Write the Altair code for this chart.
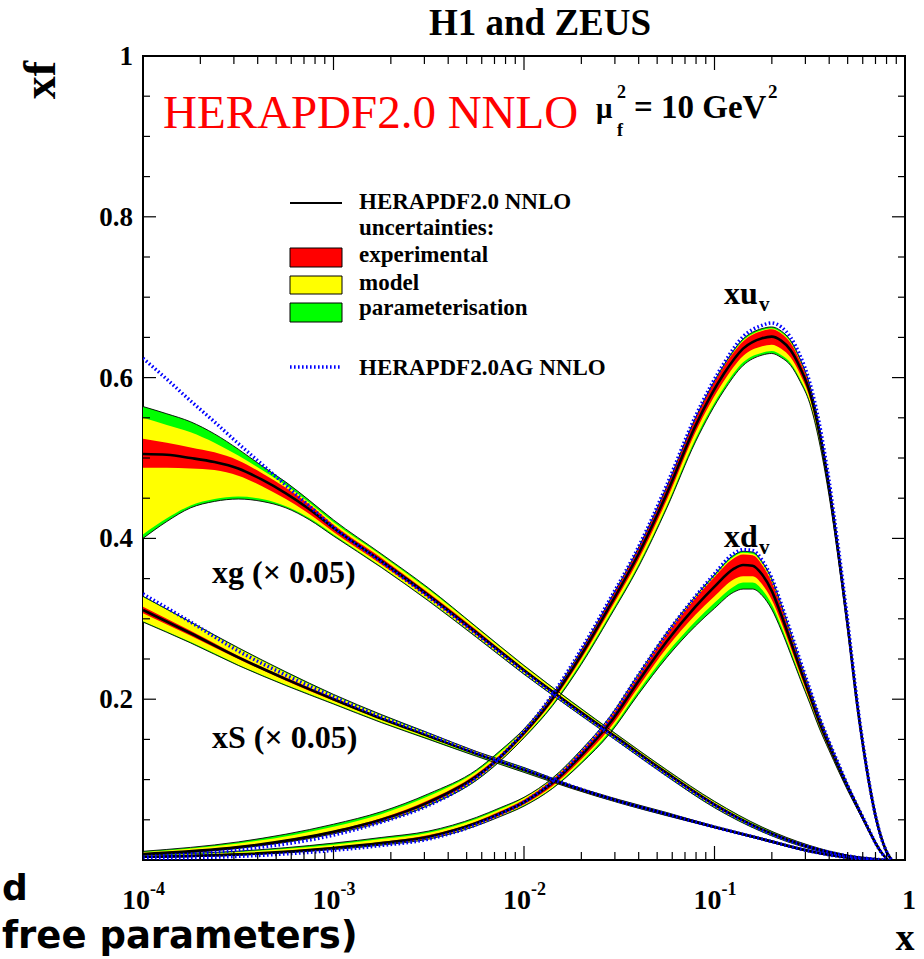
import altair as alt
import pandas as pd

# ---------------- data (log10 x grid and values) ----------------
# gluon  xg x 0.05
g_lx  = [-4, -3.875, -3.75, -3.625, -3.5, -3.375, -3.25, -3.125, -3, -2.75, -2.5, -2.25, -2, -1.75, -1.5,
         -1.25, -1, -0.75, -0.5, -0.3, -0.1]
g_c   = [.505, .504, .500, .495, .487, .473, .456, .436, .413, .372, .329, .283, .236, .192, .150,
         .108, .069, .038, .016, .005, 0]
g_elo = [.488, .488, .487, .485, .478, .465, .449, .430, .408, .368, .326, .280, .234, .190, .148,
         .106, .067, .037, .015, .0045, 0]
g_ehi = [.524, .519, .513, .507, .497, .481, .463, .442, .417, .376, .332, .286, .238, .194, .152,
         .110, .071, .039, .017, .0055, 0]
g_mlo = [.405, .425, .441, .449, .452, .449, .440, .425, .405, .365, .323, .278, .232, .189, .147,
         .105, .066, .036, .015, .004, 0]
g_mhi = [.550, .541, .532, .519, .503, .485, .466, .444, .420, .379, .336, .289, .241, .196, .153,
         .111, .072, .040, .018, .006, 0]
g_tlo = [.400, .421, .438, .446, .449, .446, .438, .423, .403, .364, .322, .277, .231, .188, .146,
         .104, .065, .035, .014, .004, 0]
g_thi = [.564, .555, .545, .530, .511, .490, .470, .447, .423, .381, .338, .290, .242, .197, .154,
         .112, .073, .041, .018, .006, 0]
g_ag  = [.624, .598, .571, .545, .518, .492, .466, .440, .414, .371, .327, .281, .234, .190, .148,
         .106, .068, .037, .016, .005, 0]

# sea  xS x 0.05
s_lx  = [-4, -3.75, -3.5, -3.25, -3, -2.75, -2.5, -2.25, -2, -1.75, -1.5, -1.25, -1, -0.75, -0.5, -0.3, -0.15]
s_c   = [.311, .282, .252, .225, .200, .176, .154, .132, .112, .091, .073, .057, .041, .026, .011, .003, 0]
s_elo = [.307, .279, .250, .223, .198, .175, .153, .131, .111, .090, .072, .056, .040, .0255, .0105, .003, 0]
s_ehi = [.315, .285, .254, .227, .202, .177, .155, .133, .113, .092, .074, .058, .042, .0265, .0115, .003, 0]
s_mlo = [.297, .271, .243, .218, .195, .172, .151, .130, .110, .089, .071, .056, .040, .025, .0105, .0028, 0]
s_mhi = [.327, .295, .263, .233, .205, .180, .157, .135, .114, .093, .075, .058, .042, .027, .0115, .0032, 0]
s_tlo = [.296, .270, .242, .217, .194, .171, .150, .129, .109, .089, .071, .055, .040, .025, .010, .0027, 0]
s_thi = [.328, .296, .264, .234, .206, .181, .158, .135, .115, .093, .075, .059, .042, .027, .012, .0033, 0]
s_ag  = [.331, .296, .260, .230, .203, .178, .156, .133, .113, .092, .073, .057, .041, .026, .011, .003, 0]

# valence up  xu_v
u_lx  = [-4, -3.5, -3, -2.75, -2.5, -2.25, -2.125, -2, -1.85, -1.7, -1.55, -1.4, -1.25, -1.1, -0.95, -0.85,
         -0.75, -0.7, -0.65, -0.6, -0.55, -0.5, -0.45, -0.4, -0.35, -0.3, -0.25, -0.2, -0.15, -0.1, -0.07]
u_c   = [.0075, .016, .035, .050, .072, .104, .128, .158, .201, .255, .316, .380, .456, .540, .605, .636,
         .649, .651, .646, .634, .612, .582, .532, .465, .382, .290, .192, .112, .050, .012, 0]
u_elo = [.0068, .015, .0335, .048, .0695, .101, .125, .155, .197, .250, .310, .373, .448, .532, .596, .627,
         .639, .641, .636, .625, .604, .575, .526, .460, .378, .287, .190, .110, .049, .0115, 0]
u_ehi = [.0082, .017, .0365, .052, .0745, .107, .131, .161, .205, .260, .322, .387, .464, .549, .614, .645,
         .658, .660, .655, .643, .620, .589, .538, .470, .386, .293, .194, .114, .051, .0125, 0]
u_mlo = [.0066, .0147, .033, .0475, .069, .100, .124, .153, .194, .246, .305, .367, .441, .524, .588, .619,
         .631, .633, .628, .618, .598, .570, .522, .457, .375, .285, .188, .109, .048, .011, 0]
u_mhi = [.0098, .0205, .0415, .057, .0795, .110, .134, .162, .205, .260, .322, .387, .464, .549, .614, .646,
         .659, .661, .656, .644, .621, .590, .539, .471, .387, .294, .195, .114, .052, .013, 0]
u_tlo = [.0064, .0144, .0325, .047, .068, .099, .123, .152, .192, .243, .302, .364, .438, .520, .584, .615,
         .628, .630, .625, .615, .595, .568, .520, .455, .374, .284, .187, .108, .048, .011, 0]
u_thi = [.0108, .0225, .0445, .060, .0825, .112, .136, .163, .206, .261, .323, .388, .465, .550, .616, .648,
         .661, .663, .658, .646, .623, .591, .540, .472, .388, .295, .196, .115, .052, .013, 0]
u_ag  = [.004, .0125, .031, .047, .068, .102, .128, .160, .206, .262, .324, .389, .467, .552, .618, .651,
         .665, .668, .663, .650, .627, .594, .543, .474, .389, .295, .195, .113, .050, .012, 0]

# valence down  xd_v
d_lx  = [-4, -3.5, -3, -2.75, -2.5, -2.25, -2.125, -2, -1.85, -1.7, -1.55, -1.4, -1.25, -1.1, -1.0, -0.9,
         -0.85, -0.8, -0.75, -0.7, -0.65, -0.6, -0.55, -0.5, -0.45, -0.4, -0.35, -0.3, -0.25, -0.2, -0.15,
         -0.12, -0.09]
d_c   = [.004, .007, .015, .021, .029, .046, .058, .072, .096, .130, .170, .222, .272, .315, .340, .362,
         .367, .366, .355, .335, .305, .272, .238, .205, .172, .143, .116, .090, .066, .042, .019,
         .008, 0]
d_elo = [.0035, .0062, .0138, .0195, .027, .044, .0555, .069, .092, .125, .164, .215, .264, .305, .328, .349,
         .353, .353, .343, .324, .296, .264, .231, .199, .167, .139, .113, .088, .064, .041, .018,
         .0075, 0]
d_ehi = [.0045, .0078, .0162, .0225, .031, .048, .0605, .075, .100, .135, .176, .229, .281, .326, .352, .375,
         .380, .379, .367, .346, .315, .280, .245, .211, .177, .147, .119, .092, .068, .043, .020,
         .0085, 0]
d_mlo = [.0033, .006, .0133, .019, .0265, .043, .0545, .068, .090, .122, .160, .210, .257, .297, .320, .340,
         .345, .345, .336, .318, .291, .260, .228, .197, .166, .138, .112, .087, .064, .041, .018,
         .0075, 0]
d_mhi = [.006, .010, .019, .026, .034, .051, .063, .077, .101, .136, .177, .230, .282, .327, .353, .377,
         .382, .381, .369, .348, .316, .281, .246, .212, .178, .148, .120, .093, .069, .044, .020,
         .0085, 0]
d_tlo = [.0032, .0058, .013, .0185, .026, .0425, .054, .067, .089, .120, .157, .206, .252, .291, .313, .333,
         .337, .337, .329, .312, .286, .256, .225, .195, .164, .137, .111, .086, .063, .040, .018,
         .007, 0]
d_thi = [.0065, .011, .021, .028, .036, .053, .065, .078, .102, .137, .178, .231, .283, .328, .355, .379,
         .384, .383, .371, .350, .318, .283, .247, .213, .179, .149, .121, .094, .069, .044, .021,
         .009, 0]
d_ag  = [.002, .0045, .012, .018, .026, .044, .057, .072, .098, .134, .176, .230, .282, .328, .356, .381,
         .386, .385, .373, .351, .319, .284, .248, .213, .178, .148, .120, .092, .067, .043, .019,
         .008, 0]

# axis ticks
x_major = [1e-4, 1e-3, 1e-2, 1e-1, 1.0]
x_exp_labels = ["-4", "-3", "-2", "-1"]
y_major = [0.0, 0.2, 0.4, 0.6, 0.8, 1.0]
y_labels = ["", "0.2", "0.4", "0.6", "0.8", "1"]

# ---------------- build tables ----------------
def table(name, lx, c, elo, ehi, mlo, mhi, tlo, thi, ag):
    return pd.DataFrame({
        "pdf": name, "x": [10 ** v for v in lx], "c": c, "elo": elo, "ehi": ehi,
        "mlo": mlo, "mhi": mhi, "tlo": tlo, "thi": thi, "ag": ag,
    })

df = pd.concat([
    table("g", g_lx, g_c, g_elo, g_ehi, g_mlo, g_mhi, g_tlo, g_thi, g_ag),
    table("s", s_lx, s_c, s_elo, s_ehi, s_mlo, s_mhi, s_tlo, s_thi, s_ag),
    table("u", u_lx, u_c, u_elo, u_ehi, u_mlo, u_mhi, u_tlo, u_thi, u_ag),
    table("d", d_lx, d_c, d_elo, d_ehi, d_mlo, d_mhi, d_tlo, d_thi, d_ag),
], ignore_index=True)

W, H = 762, 804
xscale = alt.Scale(type="log", domain=[1e-4, 1])
yscale = alt.Scale(domain=[0, 1])
X = alt.X("x:Q", scale=xscale, axis=None)

base = alt.Chart(df).encode(x=X, detail="pdf:N")

def band(lo, hi, color):
    return base.mark_area(color=color, opacity=1, interpolate="monotone", clip=True).encode(
        y=alt.Y(f"{lo}:Q", scale=yscale, axis=None), y2=f"{hi}:Q")

def curve(field, **kw):
    return base.mark_line(interpolate="monotone", clip=True, **kw).encode(
        y=alt.Y(f"{field}:Q", scale=yscale, axis=None))

layers = [
    band("tlo", "thi", "#00ff00"),
    band("mlo", "mhi", "#ffff00"),
    band("elo", "ehi", "#ff0000"),
    curve("tlo", color="black", strokeWidth=0.9),
    curve("thi", color="black", strokeWidth=0.9),
    curve("c", color="black", strokeWidth=2.6),
    curve("ag", color="#0000ff", strokeWidth=3.5, strokeDash=[1.6, 2.4]),
]

# ticks (inward, on all four sides)
xt = []
for i, m in enumerate(x_major):
    xt.append({"x": m, "len": 14})
    if i < len(x_major) - 1:
        for k in range(2, 10):
            xt.append({"x": m * k, "len": 8})
xt = pd.DataFrame(xt)
yt = pd.DataFrame([{"y": round(v * 0.05, 4), "len": 13 if v % 4 == 0 else 7} for v in range(0, 21)])

layers.append(alt.Chart(xt).transform_calculate(y0=f"{H}", y1=f"{H} - datum.len").mark_rule(
    color="black", strokeWidth=1.2).encode(x=X, y=alt.Y("y0:Q", scale=None), y2="y1:Q"))
layers.append(alt.Chart(xt).transform_calculate(y0="0", y1="datum.len").mark_rule(
    color="black", strokeWidth=1.2).encode(x=X, y=alt.Y("y0:Q", scale=None), y2="y1:Q"))
layers.append(alt.Chart(yt).transform_calculate(x0="0", x1="datum.len").mark_rule(
    color="black", strokeWidth=1.2).encode(y=alt.Y("y:Q", scale=yscale, axis=None),
                                           x=alt.X("x0:Q", scale=None), x2="x1:Q"))
layers.append(alt.Chart(yt).transform_calculate(x0=f"{W}", x1=f"{W} - datum.len").mark_rule(
    color="black", strokeWidth=1.2).encode(y=alt.Y("y:Q", scale=yscale, axis=None),
                                           x=alt.X("x0:Q", scale=None), x2="x1:Q"))

SERIF = "Liberation Serif"

# x tick labels
xl = pd.DataFrame({"x": x_major[:-1], "e": x_exp_labels})
layers.append(alt.Chart(xl).mark_text(text="10", font=SERIF, fontWeight="bold", fontSize=28,
                                      align="right", dx=7).encode(x=X, y=alt.value(845)))
layers.append(alt.Chart(xl).mark_text(font=SERIF, fontWeight="bold", fontSize=18,
                                      align="left", dx=7).encode(x=X, y=alt.value(834), text="e:N"))
layers.append(alt.Chart(pd.DataFrame({"x": [x_major[-1]]})).mark_text(
    text="1", font=SERIF, fontWeight="bold", fontSize=28, align="center", dx=4).encode(x=X, y=alt.value(845)))

# y tick labels
yl = pd.DataFrame({"y": y_major, "t": y_labels})
layers.append(alt.Chart(yl).mark_text(font=SERIF, fontWeight="bold", fontSize=27, align="right",
                                      baseline="middle", dx=-10, dy=1).encode(
    y=alt.Y("y:Q", scale=yscale, axis=None), x=alt.value(0), text="t:N"))

dummy = alt.Data(values=[{"a": 1}])

def txt(s, x, y, size, color="black", weight="bold", font=SERIF, align="left", angle=0):
    return alt.Chart(dummy).mark_text(text=s, fontSize=size, font=font, fontWeight=weight, color=color,
                                      align=align, baseline="alphabetic", angle=angle).encode(
        x=alt.value(x), y=alt.value(y))

# titles and annotations
layers += [
    txt("H1 and ZEUS", 397, -21, 37, align="center"),
    txt("xf", -88, 24, 46, align="center", angle=270),
    txt("x", 762, 894, 38, align="center"),
    txt("HERAPDF2.0 NNLO", 20, 72, 47, color="#ff0000", weight="normal"),
    txt("\u03bc", 453, 62, 29),
    txt("2", 474, 42, 18),
    txt("f", 474, 80, 18),
    txt("= 10 GeV", 491, 62, 33),
    txt("2", 625, 42, 19),
    txt("xu", 581, 248, 32),
    txt("v", 616, 255, 21),
    txt("xd", 581, 491, 32),
    txt("v", 616, 498, 21),
    txt("xg (\u00d7 0.05)", 69, 527, 32),
    txt("xS (\u00d7 0.05)", 69, 692, 32),
    txt("d", -141, 844, 36, font="DejaVu Sans"),
    txt("free parameters)", -141, 892, 37, font="DejaVu Sans"),
]

# legend
LX0, LX1, TX = 147, 199, 216
layers += [
    alt.Chart(dummy).mark_rule(color="black", strokeWidth=2.2).encode(
        x=alt.value(LX0), x2=alt.value(LX1), y=alt.value(147)),
    alt.Chart(dummy).mark_rule(color="#0000ff", strokeWidth=3.5, strokeDash=[1.6, 2.4]).encode(
        x=alt.value(LX0), x2=alt.value(LX1), y=alt.value(311)),
]
for (y0, y1, col) in [(192, 211, "#ff0000"), (220, 238, "#ffff00"), (247, 266, "#00ff00")]:
    layers.append(alt.Chart(dummy).mark_rect(color=col, stroke="black", strokeWidth=1).encode(
        x=alt.value(LX0), x2=alt.value(LX1), y=alt.value(y0), y2=alt.value(y1)))
layers += [
    txt("HERAPDF2.0 NNLO", TX, 153, 23),
    txt("uncertainties:", TX, 179, 23),
    txt("experimental", TX, 206, 23),
    txt("model", TX, 234, 23),
    txt("parameterisation", TX, 259, 23),
    txt("HERAPDF2.0AG NNLO", TX, 319, 23),
]

chart = alt.layer(*layers).properties(
    width=W, height=H,
    padding={"left": 143, "top": 56, "right": 19, "bottom": 99},
    autosize=alt.AutoSizeParams(type="none"),
    background="white",
).configure_view(stroke="black", strokeWidth=2)

chart.save("out.html", embed_options={"renderer": "svg", "actions": False})
